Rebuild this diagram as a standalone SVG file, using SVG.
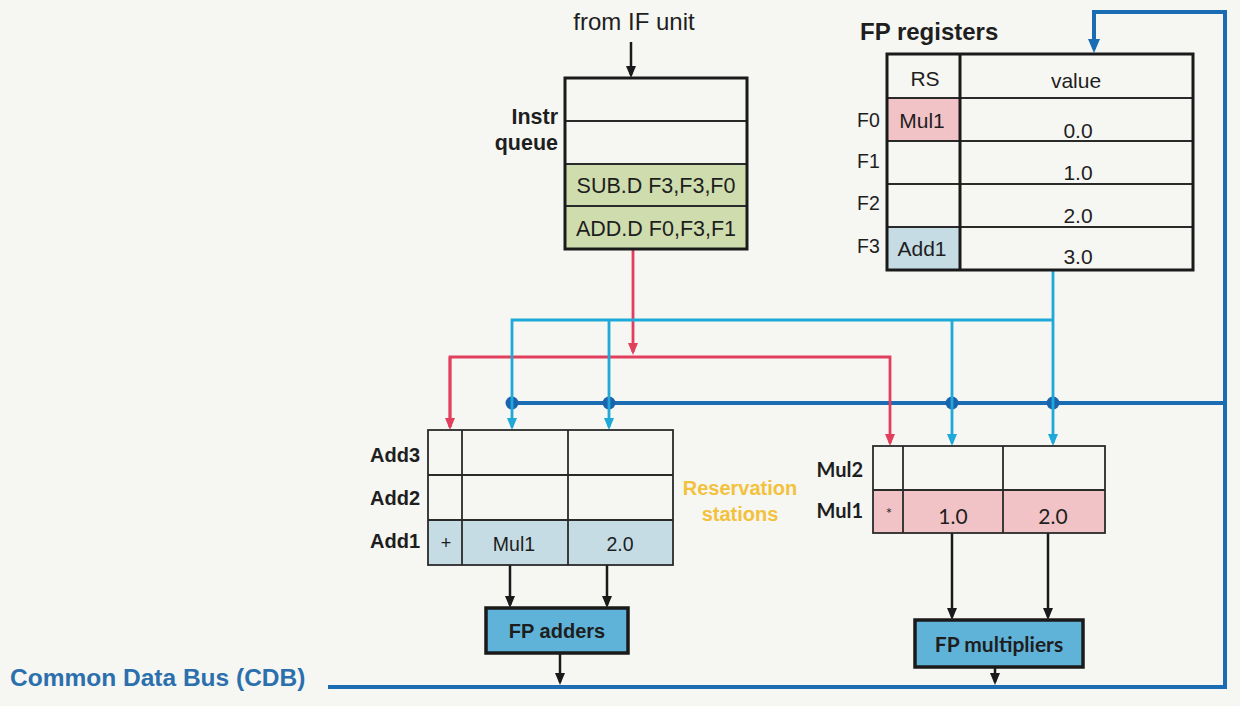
<svg xmlns="http://www.w3.org/2000/svg" width="1240" height="706" viewBox="0 0 1240 706">
<style>
text{font-family:"Liberation Sans",Arial,sans-serif;fill:#1e1e1e}
.b{font-weight:bold}
.lato{font-family:Lato,"Liberation Sans",sans-serif}
.tbl{fill:none;stroke:#2a2a2a;stroke-width:1.8}
.outer{fill:none;stroke:#1a1a1a;stroke-width:3}
.k{fill:none;stroke:#1a1a1a;stroke-width:2.5}
.red{fill:none;stroke:#e23f5c;stroke-width:2.8}
.cyan{fill:none;stroke:#1fa9d8;stroke-width:2.8}
.blue{fill:none;stroke:#1b6db3;stroke-width:4}
.dot{fill:#1b63ad}
.unit{fill:#5fb3d8;stroke:#1a1a1a;stroke-width:3.5}
.m{text-anchor:middle}
.e{text-anchor:end}
</style>
<defs>
<marker id="ak" viewBox="0 0 12 10" refX="9" refY="5" markerWidth="12" markerHeight="10" markerUnits="userSpaceOnUse" orient="auto"><path d="M0,0L12,5L0,10z" fill="#1a1a1a"/></marker>
<marker id="ar" viewBox="0 0 12 10" refX="9" refY="5" markerWidth="12" markerHeight="10" markerUnits="userSpaceOnUse" orient="auto"><path d="M0,0L12,5L0,10z" fill="#e23f5c"/></marker>
<marker id="ac" viewBox="0 0 12 10" refX="9" refY="5" markerWidth="12" markerHeight="10" markerUnits="userSpaceOnUse" orient="auto"><path d="M0,0L12,5L0,10z" fill="#1fa9d8"/></marker>
<marker id="ab" viewBox="0 0 14 12" refX="10" refY="6" markerWidth="14" markerHeight="12" markerUnits="userSpaceOnUse" orient="auto"><path d="M0,0L14,6L0,12z" fill="#1b6db3"/></marker>
</defs>
<rect width="1240" height="706" fill="#f6f6f3"/>

<g id="connectors">
  <path class="k" d="M631,42V75" stroke-width="1.8" marker-end="url(#ak)"/>
  <path class="blue" d="M328,687H1225V12H1094V49" marker-end="url(#ab)"/>
  <path class="blue" d="M512,403H1225"/>
  <circle class="dot" cx="512" cy="403" r="6.5"/>
  <circle class="dot" cx="609" cy="403" r="6.5"/>
  <circle class="dot" cx="952" cy="403" r="6.5"/>
  <circle class="dot" cx="1053" cy="403" r="6.5"/>
  <path class="red" d="M633,249V352" marker-end="url(#ar)"/>
  <path class="red" d="M450,427V357H890V443" marker-end="url(#ar)"/>
  <path class="red" d="M450,357V427" marker-end="url(#ar)"/>
  <path class="cyan" d="M1053,270V443" marker-end="url(#ac)"/>
  <path class="cyan" d="M1053,320H512V427" marker-end="url(#ac)"/>
  <path class="cyan" d="M609,320V427" marker-end="url(#ac)"/>
  <path class="cyan" d="M952,320V443" marker-end="url(#ac)"/>
  <path class="k" d="M510,565V605" marker-end="url(#ak)"/>
  <path class="k" d="M607,565V605" marker-end="url(#ak)"/>
  <path class="k" d="M560,653V682" marker-end="url(#ak)"/>
  <path class="k" d="M952,533V617" marker-end="url(#ak)"/>
  <path class="k" d="M1048,533V617" marker-end="url(#ak)"/>
  <path class="k" d="M995,667V682" marker-end="url(#ak)"/>
</g>

<g id="if-label">
  <text class="m" x="634" y="30" font-size="24">from IF unit</text>
</g>

<g id="instr-queue">
  <rect x="565" y="164" width="182" height="85" fill="#cfdcae"/>
  <line class="tbl" x1="565" y1="121" x2="747" y2="121"/>
  <line class="tbl" x1="565" y1="164" x2="747" y2="164"/>
  <line class="tbl" x1="565" y1="206" x2="747" y2="206"/>
  <rect class="outer" x="565" y="78" width="182" height="171"/>
  <text class="b e" x="558" y="124" font-size="21.5">Instr</text>
  <text class="b e" x="558" y="150" font-size="21.5">queue</text>
  <text class="m" x="656" y="193" font-size="21.5">SUB.D F3,F3,F0</text>
  <text class="m" x="656" y="236" font-size="21.5">ADD.D F0,F3,F1</text>
</g>

<g id="fp-registers">
  <rect x="887" y="98" width="73" height="43" fill="#f2c3c6"/>
  <rect x="887" y="227" width="73" height="43" fill="#c5dce4"/>
  <line class="tbl" x1="887" y1="98" x2="1193" y2="98"/>
  <line class="tbl" x1="887" y1="141" x2="1193" y2="141"/>
  <line class="tbl" x1="887" y1="184" x2="1193" y2="184"/>
  <line class="tbl" x1="887" y1="227" x2="1193" y2="227"/>
  <line class="outer" x1="960" y1="54" x2="960" y2="270"/>
  <rect class="outer" x="887" y="54" width="306" height="216"/>
  <text class="b" x="860" y="40" font-size="24">FP registers</text>
  <text class="m" x="925" y="86" font-size="21">RS</text>
  <text class="m" x="1076" y="88" font-size="21">value</text>
  <text x="857" y="127" font-size="19.5">F0</text>
  <text x="857" y="168" font-size="19.5">F1</text>
  <text x="857" y="210" font-size="19.5">F2</text>
  <text x="857" y="253" font-size="19.5">F3</text>
  <text class="m" x="922" y="128" font-size="21">Mul1</text>
  <text class="m" x="922" y="256" font-size="21">Add1</text>
  <text class="m" x="1078" y="138" font-size="21">0.0</text>
  <text class="m" x="1078" y="180" font-size="21">1.0</text>
  <text class="m" x="1078" y="223" font-size="21">2.0</text>
  <text class="m" x="1078" y="264" font-size="21">3.0</text>
</g>

<g id="add-stations">
  <rect x="428" y="520" width="245" height="45" fill="#c5dce4"/>
  <line class="tbl" x1="428" y1="475" x2="673" y2="475"/>
  <line class="tbl" x1="428" y1="520" x2="673" y2="520"/>
  <line class="tbl" x1="462" y1="430" x2="462" y2="565"/>
  <line class="tbl" x1="568" y1="430" x2="568" y2="565"/>
  <rect class="tbl" x="428" y="430" width="245" height="135"/>
  <text class="b e" x="420" y="462" font-size="20">Add3</text>
  <text class="b e" x="420" y="505" font-size="20">Add2</text>
  <text class="b e" x="420" y="548" font-size="20">Add1</text>
  <text class="m" x="446" y="549" font-size="18">+</text>
  <text class="m" x="514" y="551" font-size="19.5">Mul1</text>
  <text class="m" x="620" y="551" font-size="19.5">2.0</text>
</g>

<g id="rs-label">
  <text class="b m" x="740" y="495" font-size="20" style="fill:#f2c23c">Reservation</text>
  <text class="b m" x="740" y="521" font-size="20" style="fill:#f2c23c">stations</text>
</g>

<g id="mul-stations">
  <rect x="873" y="490" width="232" height="43" fill="#f2c3c6"/>
  <line class="tbl" x1="873" y1="490" x2="1105" y2="490"/>
  <line class="tbl" x1="903" y1="446" x2="903" y2="533"/>
  <line class="tbl" x1="1003" y1="446" x2="1003" y2="533"/>
  <rect class="tbl" x="873" y="446" width="232" height="87"/>
  <text class="lato b e" x="863" y="477" font-size="20">Mul2</text>
  <text class="lato b e" x="863" y="518" font-size="20">Mul1</text>
  <text class="lato m" x="889" y="519" font-size="15">*</text>
  <text class="lato m" x="953" y="524" font-size="21">1.0</text>
  <text class="lato m" x="1053" y="524" font-size="21">2.0</text>
</g>

<g id="fp-adders">
  <rect class="unit" x="486" y="608" width="142" height="45"/>
  <text class="b m" x="557" y="638" font-size="20">FP adders</text>
</g>

<g id="fp-multipliers">
  <rect class="unit" x="915" y="620" width="168" height="47"/>
  <text class="lato b m" x="999" y="652" font-size="21">FP multipliers</text>
</g>

<g id="cdb-label">
  <text class="b" x="10" y="686" font-size="24.5" style="fill:#2b70ad">Common Data Bus (CDB)</text>
</g>
</svg>
